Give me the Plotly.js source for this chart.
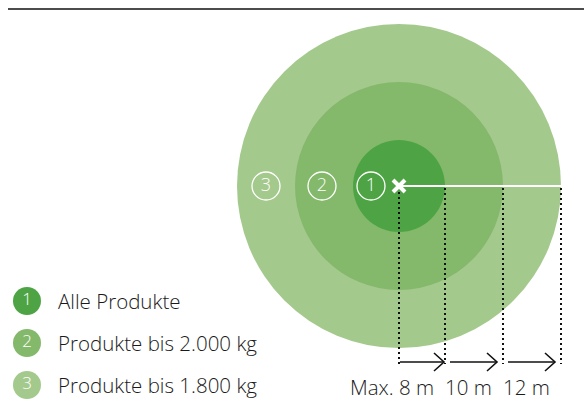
<!DOCTYPE html>
<html>
<head>
<meta charset="utf-8">
<script src="https://cdn.plot.ly/plotly-3.0.1.min.js"></script>
<style>html,body{margin:0;padding:0;background:#fff;}#chart{width:584px;height:409px;}</style>
</head>
<body>
<div id="chart"></div>
<script>
// ---- data ----
const ringNumbers = ["1", "2", "3"];
const ringLabels = ["Alle Produkte", "Produkte bis 2.000 kg", "Produkte bis 1.800 kg"];
const ringColors = ["#4ea445", "#84b96c", "#a4c98c"];
const ringRadius = [46, 104, 162];          // drawn radius of each zone (chart units)
const distanceLabels = ["Max. 8 m", "10 m", "12 m"];

// ---- layout constants ----
const W = 584, H = 409;
const cx = 399, cy = 186;
const FONT = "'Open Sans', 'Noto Sans', sans-serif";
const numberX = [371, 322, 266];
const legendX = 27, legendY = [301, 343, 385], legendTextX = 56;
const arrowY = 362, labelY = 387;

const shapes = [];
// top rule
shapes.push({type: "line", xref: "x", yref: "y", x0: 8, x1: W, y0: 9, y1: 9,
  line: {color: "#111", width: 1.5}, layer: "below"});
// circles, outermost first
for (let i = ringRadius.length - 1; i >= 0; i--) {
  const r = ringRadius[i];
  shapes.push({type: "circle", xref: "x", yref: "y", x0: cx - r, x1: cx + r, y0: cy - r, y1: cy + r,
    fillcolor: ringColors[i], line: {width: 0}, layer: "below"});
}
// white radius line
shapes.push({type: "line", xref: "x", yref: "y", x0: cx, x1: cx + ringRadius[ringRadius.length - 1], y0: cy, y1: cy,
  line: {color: "#fff", width: 2}, layer: "below"});
// dotted drop lines
const bounds = [cx].concat(ringRadius.map(r => cx + r));
bounds.forEach((bx, i) => {
  shapes.push({type: "line", xref: "x", yref: "y", x0: bx, x1: bx, y0: i === 0 ? cy + 6 : cy + 2, y1: arrowY + 2,
    line: {color: "#111", width: 2, dash: "2px,3px"}, layer: "below"});
});

const annotations = [];
// arrows (shaft + open chevron) and distance labels
for (let i = 0; i < distanceLabels.length; i++) {
  const start = bounds[i] + (i === 0 ? 1 : 5);
  const end = bounds[i + 1] - (i === 0 ? 1 : 6);
  shapes.push({type: "line", xref: "x", yref: "y", x0: start, x1: end, y0: arrowY, y1: arrowY,
    line: {color: "#111", width: 1.6}});
  shapes.push({type: "path", xref: "x", yref: "y",
    path: `M ${end - 10},${arrowY - 9} L ${end},${arrowY} L ${end - 10},${arrowY + 9}`,
    line: {color: "#111", width: 1.6}});
  annotations.push({x: bounds[i + 1] - 9, y: labelY, xref: "x", yref: "y", xanchor: "right", yanchor: "middle",
    text: distanceLabels[i], showarrow: false, font: {family: FONT, size: 20.5, color: "#1a1a1a", weight: 300}});
}
// legend labels
ringLabels.forEach((t, i) => {
  annotations.push({x: legendTextX, y: legendY[i], xref: "x", yref: "y", xanchor: "left", yanchor: "middle",
    text: t, showarrow: false, font: {family: FONT, size: 20.5, color: "#1a1a1a", weight: 300}});
});

const traces = [
  // circled numbers on the zones
  {type: "scatter", mode: "markers+text", x: numberX, y: ringNumbers.map(() => cy),
    text: ringNumbers, textposition: "middle center",
    textfont: {family: FONT, size: 18, color: "#fff", weight: 300},
    marker: {symbol: "circle-open", size: 28, color: "#fff", line: {width: 1.3, color: "#fff"}},
    hoverinfo: "skip", showlegend: false},
  // centre cross
  {type: "scatter", mode: "markers", x: [cx], y: [cy],
    marker: {symbol: "x-thin", size: 12, color: "#fff", line: {width: 4, color: "#fff"}},
    hoverinfo: "skip", showlegend: false},
  // legend dots
  {type: "scatter", mode: "markers+text", x: ringNumbers.map(() => legendX), y: legendY,
    text: ringNumbers, textposition: "middle center",
    textfont: {family: FONT, size: 17, color: "#fff", weight: 300},
    marker: {symbol: "circle", size: 28, color: ringColors, line: {width: 0}},
    hoverinfo: "skip", showlegend: false}
];

const layout = {
  width: W, height: H,
  margin: {l: 0, r: 0, t: 0, b: 0, pad: 0},
  paper_bgcolor: "#fff", plot_bgcolor: "#fff",
  showlegend: false,
  xaxis: {range: [0, W], visible: false, fixedrange: true},
  yaxis: {range: [H, 0], visible: false, fixedrange: true},
  shapes: shapes,
  annotations: annotations
};

Plotly.newPlot("chart", traces, layout, {staticPlot: true, displayModeBar: false});
</script>
</body>
</html>
